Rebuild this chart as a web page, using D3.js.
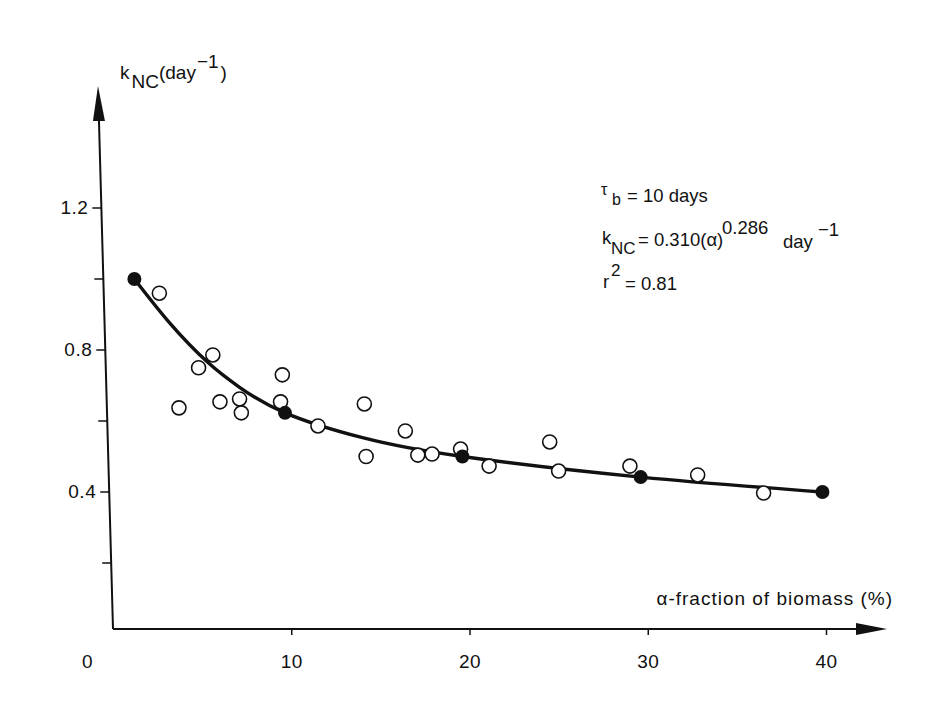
<!DOCTYPE html>
<html>
<head>
<meta charset="utf-8">
<script src="https://cdn.jsdelivr.net/npm/d3@7"></script>
<style>
  html, body { margin: 0; padding: 0; background: #fff; }
  svg text { font-family: "Liberation Sans", Arial, Helvetica, sans-serif; fill: #111; }
</style>
</head>
<body>
<svg id="chart" width="935" height="718"></svg>
<script>
// ---- data ----
const observedAlpha = [2.6, 5.6, 4.8, 9.5, 3.7, 6.0, 7.1, 7.2, 9.4, 11.5, 14.1, 14.2, 16.4, 17.1, 17.9, 19.5, 21.1, 24.5, 25.0, 29.0, 32.8, 36.5];
const observedK     = [0.96, 0.786, 0.75, 0.73, 0.637, 0.654, 0.662, 0.623, 0.654, 0.586, 0.648, 0.50, 0.572, 0.504, 0.507, 0.521, 0.473, 0.541, 0.459, 0.473, 0.448, 0.397];
const modelAlpha = [1.2, 9.65, 19.6, 29.6, 39.8];
const modelK     = [1.0, 0.623, 0.50, 0.442, 0.40];
const fitAlpha = [1.2, 3.2, 5.3, 7.1, 9.65, 14, 19.6, 29.6, 39.8];
const fitK     = [1.0, 0.875, 0.766, 0.695, 0.623, 0.553, 0.50, 0.442, 0.40];
const xTickValues = [0, 10, 20, 30, 40];
const yTickValues = [0.2, 0.4, 0.6, 0.8, 1.0, 1.2];
const yTickLabels = {0.4: "0.4", 0.8: "0.8", 1.2: "1.2"};

const svg = d3.select("#chart");
const x = d3.scaleLinear().domain([0, 40]).range([113, 826]);
const y = d3.scaleLinear().domain([0, 1.2]).range([634, 208]);
const axisY = 629;
// the hand-drawn vertical axis leans slightly: x position of the axis at a given pixel height
const axisBottomX = 113, axisTopX = 98, axisTopY = 86;
const ax = py => axisBottomX - (axisY - py) * (axisBottomX - axisTopX) / (axisY - axisTopY);

const ink = "#111";
// x axis line + arrow
svg.append("line").attr("x1", axisBottomX).attr("y1", axisY).attr("x2", 870).attr("y2", axisY)
  .attr("stroke", ink).attr("stroke-width", 2);
svg.append("path").attr("d", `M887,${axisY} L856,${axisY - 6} L856,${axisY + 6} Z`).attr("fill", ink);
// y axis line + arrow
svg.append("line").attr("x1", axisBottomX).attr("y1", axisY).attr("x2", ax(110)).attr("y2", 110)
  .attr("stroke", ink).attr("stroke-width", 2);
svg.append("path")
  .attr("d", `M${axisTopX},${axisTopY} L${ax(121) - 6},121 L${ax(121) + 6},121 Z`).attr("fill", ink);

// x ticks & labels
const xa = svg.append("g").attr("transform", `translate(0,${axisY})`)
  .call(d3.axisBottom(x).tickValues(xTickValues).tickSize(6).tickPadding(20).tickFormat(d3.format("d")));
xa.select(".domain").remove();
xa.selectAll(".tick line").attr("stroke", ink).attr("stroke-width", 1.5)
  .attr("opacity", d => d === 0 ? 0 : 1);
xa.selectAll(".tick text").attr("font-size", 19).attr("letter-spacing", 0.5).attr("fill", ink)
  .attr("dx", d => d === 0 ? -26 : 0);

// y ticks & labels (follow the leaning axis)
const ya = svg.append("g")
  .call(d3.axisLeft(y).tickValues(yTickValues).tickSize(9).tickPadding(4)
    .tickFormat(d => yTickLabels[d] || ""));
ya.select(".domain").remove();
ya.selectAll(".tick").attr("transform", d => `translate(${ax(y(d))},${y(d)})`);
ya.selectAll(".tick line").attr("stroke", ink).attr("stroke-width", 1.5);
ya.selectAll(".tick text").attr("font-size", 19).attr("letter-spacing", 0.5).attr("fill", ink);

// axis titles
const yt = svg.append("text").attr("x", 120).attr("y", 79).attr("font-size", 19);
yt.append("tspan").text("k");
yt.append("tspan").attr("dx", 2).attr("dy", 9).text("NC");
yt.append("tspan").attr("dy", -9).text("(day");
yt.append("tspan").attr("dx", 1).attr("dy", -11).text("\u22121");
yt.append("tspan").attr("dx", 2).attr("dy", 11).text(")");

svg.append("text").attr("x", 893).attr("y", 605).attr("text-anchor", "end")
  .attr("font-size", 19).attr("letter-spacing", 1.0).text("\u03b1-fraction of biomass (%)");

// annotation
function put(t, xx, yy, fs) {
  svg.append("text").attr("x", xx).attr("y", yy).attr("font-size", fs || 18.5).text(t);
}
put("\u03c4", 601, 195, 16); put("b", 612, 205, 16); put("= 10 days", 627, 202);
put("k", 602, 244); put("NC", 611, 254, 17); put("= 0.310(\u03b1)", 638, 246);
put("0.286", 722, 234); put("day", 783, 248); put("\u22121", 818, 236);
put("r", 603, 288); put("2", 611, 276, 17); put("= 0.81", 625, 290);

// fitted curve
const fit = fitAlpha.map((a, i) => [a, fitK[i]]);
svg.append("path").datum(fit)
  .attr("d", d3.line().x(d => x(d[0])).y(d => y(d[1])).curve(d3.curveNatural))
  .attr("fill", "none").attr("stroke", ink).attr("stroke-width", 3.4);

// observed points (open)
svg.append("g").selectAll("circle").data(observedAlpha.map((a, i) => [a, observedK[i]]))
  .join("circle").attr("cx", d => x(d[0])).attr("cy", d => y(d[1])).attr("r", 7)
  .attr("fill", "#fff").attr("stroke", ink).attr("stroke-width", 1.6);

// model points (filled)
svg.append("g").selectAll("circle").data(modelAlpha.map((a, i) => [a, modelK[i]]))
  .join("circle").attr("cx", d => x(d[0])).attr("cy", d => y(d[1])).attr("r", 7)
  .attr("fill", ink);
</script>
</body>
</html>
